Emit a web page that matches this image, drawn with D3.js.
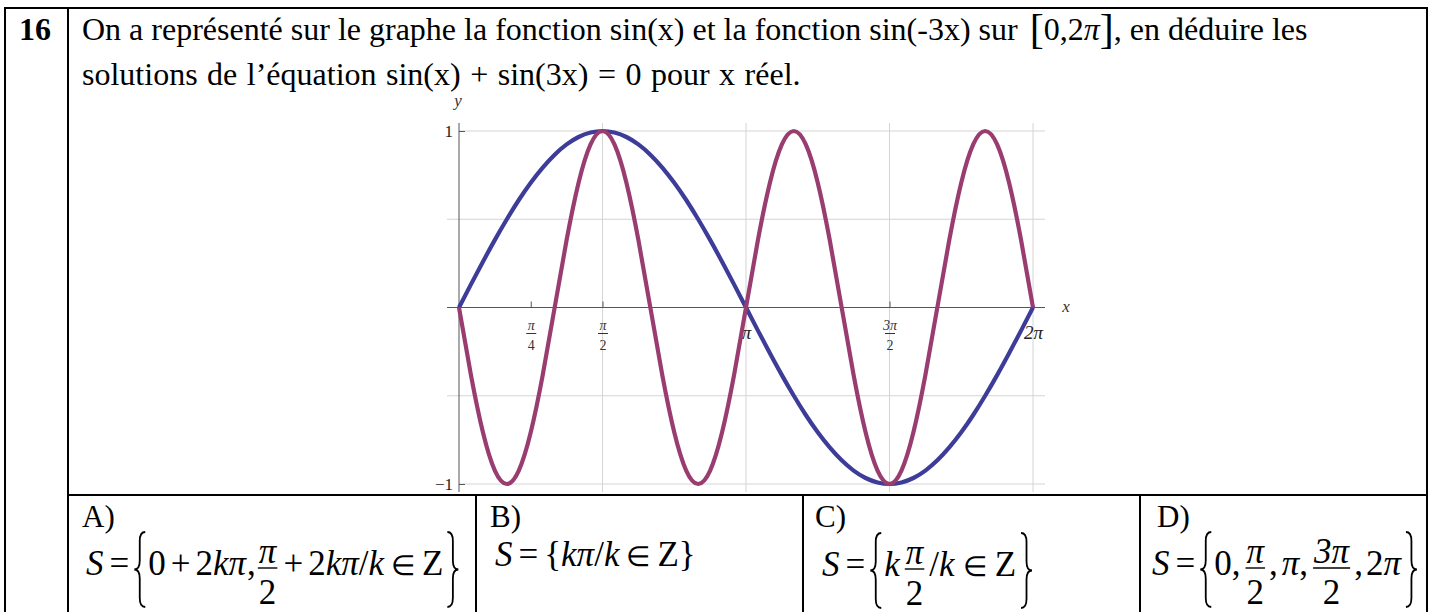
<!DOCTYPE html>
<html>
<head>
<meta charset="utf-8">
<script src="https://cdn.jsdelivr.net/npm/d3@7"></script>
<style>
  body { margin: 0; background: #fff; }
  text { font-family: "Liberation Serif", "Times New Roman", serif; }
</style>
</head>
<body>
<div id="chart"></div>
<script>
// sampling grid: k * pi/24, k = 0..48
const sampleX = d3.range(0, 49).map(k => k * Math.PI / 24);
// values at those x
const sinX = [0, 0.131, 0.259, 0.383, 0.5, 0.609, 0.707, 0.793, 0.866, 0.924, 0.966, 0.991, 1,
  0.991, 0.966, 0.924, 0.866, 0.793, 0.707, 0.609, 0.5, 0.383, 0.259, 0.131, 0,
  -0.131, -0.259, -0.383, -0.5, -0.609, -0.707, -0.793, -0.866, -0.924, -0.966, -0.991, -1,
  -0.991, -0.966, -0.924, -0.866, -0.793, -0.707, -0.609, -0.5, -0.383, -0.259, -0.131, 0];
const sinMinus3X = [0, -0.383, -0.707, -0.924, -1, -0.924, -0.707, -0.383, 0,
  0.383, 0.707, 0.924, 1, 0.924, 0.707, 0.383, 0,
  -0.383, -0.707, -0.924, -1, -0.924, -0.707, -0.383, 0,
  0.383, 0.707, 0.924, 1, 0.924, 0.707, 0.383, 0,
  -0.383, -0.707, -0.924, -1, -0.924, -0.707, -0.383, 0,
  0.383, 0.707, 0.924, 1, 0.924, 0.707, 0.383, 0];

const xTicks = [Math.PI / 4, Math.PI / 2, Math.PI, 3 * Math.PI / 2, 2 * Math.PI];
const xTickLabels = [["π", "4"], ["π", "2"], ["π"], ["3π", "2"], ["2π"]];
const xGrid = [Math.PI / 2, Math.PI, 3 * Math.PI / 2, 2 * Math.PI];
const yTicks = [-1, 1];
const yTickLabels = ["−1", "1"];
const yGrid = [-1, -0.5, 0.5, 1];

const W = 1430, H = 612;
const svg = d3.select("#chart").append("svg")
  .attr("width", W)
  .attr("height", H);

// ---- table frame
const frame = svg.append("g").attr("stroke", "#000").attr("stroke-width", 2);
frame.append("rect").attr("x", 5).attr("y", 8).attr("width", 1422).attr("height", 610).attr("fill", "none");
frame.append("line").attr("x1", 68).attr("x2", 68).attr("y1", 8).attr("y2", 612);
frame.append("line").attr("x1", 68).attr("x2", 1427).attr("y1", 495).attr("y2", 495);
[476, 803, 1140].forEach(v =>
  frame.append("line").attr("x1", v).attr("x2", v).attr("y1", 495).attr("y2", 612));

// ---- question text
const bodyFs = 32;
svg.append("text").attr("x", 19).attr("y", 40).attr("font-size", bodyFs).attr("font-weight", "bold").text("16");
const l1 = svg.append("text").attr("x", 82).attr("y", 40).attr("font-size", bodyFs);
l1.append("tspan").text("On a représenté sur le graphe la fonction sin(x) et la fonction sin(-3x) sur ");
l1.append("tspan").attr("dx", 4).attr("font-size", 42).attr("dy", 3).text("[");
l1.append("tspan").attr("dy", -3).text("0,2");
l1.append("tspan").attr("font-style", "italic").text("π");
l1.append("tspan").attr("font-size", 42).attr("dy", 3).text("]");
l1.append("tspan").attr("dy", -3).text(", en déduire les");
svg.append("text").attr("x", 82).attr("y", 85).attr("font-size", bodyFs).attr("word-spacing", 1.5)
  .text("solutions de l’équation sin(x) + sin(3x) = 0 pour x réel.");

// ---- plot
const x = d3.scaleLinear().domain([0, 2 * Math.PI]).range([459, 1033]);
const y = d3.scaleLinear().domain([-1, 1]).range([484, 131]);

svg.append("g").selectAll("line").data(xGrid).join("line")
  .attr("x1", d => x(d)).attr("x2", d => x(d))
  .attr("y1", 123).attr("y2", 492)
  .attr("stroke", "#d4d4d4");
svg.append("g").selectAll("line").data(yGrid).join("line")
  .attr("x1", d => Math.abs(d) === 1 ? x(0) : 447).attr("x2", 1045)
  .attr("y1", d => y(d)).attr("y2", d => y(d))
  .attr("stroke", "#d4d4d4");

// axes
svg.append("line").attr("x1", 447).attr("x2", 1045).attr("y1", y(0)).attr("y2", y(0)).attr("stroke", "#555");
svg.append("line").attr("x1", x(0)).attr("x2", x(0)).attr("y1", 123).attr("y2", 492).attr("stroke", "#555");

const xAxis = svg.append("g")
  .attr("transform", `translate(0,${y(0)})`)
  .call(d3.axisBottom(x).tickValues(xTicks).tickSize(-6).tickSizeOuter(0).tickFormat(""));
xAxis.select(".domain").remove();
xAxis.selectAll(".tick line").attr("stroke", "#555");
xAxis.selectAll(".tick").each(function (d, i) {
  const g = d3.select(this);
  const lab = xTickLabels[i];
  if (lab.length === 2) {
    g.append("text").attr("y", 22).attr("text-anchor", "middle").attr("font-size", 14)
      .attr("font-style", "italic").attr("fill", "#333").text(lab[0]);
    g.append("line").attr("x1", -5).attr("x2", 5).attr("y1", 26).attr("y2", 26).attr("stroke", "#333");
    g.append("text").attr("y", 42).attr("text-anchor", "middle").attr("font-size", 14)
      .attr("fill", "#333").text(lab[1]);
  } else {
    g.append("text").attr("y", 31).attr("text-anchor", "middle").attr("font-size", 19)
      .attr("font-style", "italic").attr("fill", "#222").text(lab[0]);
  }
});

const yAxis = svg.append("g")
  .attr("transform", `translate(${x(0)},0)`)
  .call(d3.axisRight(y).tickValues(yTicks).tickSize(6).tickSizeOuter(0).tickFormat(""));
yAxis.select(".domain").remove();
yAxis.selectAll(".tick line").attr("stroke", "#555");
yAxis.selectAll(".tick").append("text")
  .attr("x", -6).attr("y", 5).attr("text-anchor", "end").attr("font-size", 17).attr("fill", "#222")
  .text((d, i) => yTickLabels[i]);

svg.append("text").attr("x", 458).attr("y", 106).attr("text-anchor", "middle").attr("font-size", 17)
  .attr("font-style", "italic").attr("fill", "#333").text("y");
svg.append("text").attr("x", 1066).attr("y", 312).attr("text-anchor", "middle").attr("font-size", 17)
  .attr("font-style", "italic").attr("fill", "#333").text("x");

const line = d3.line().curve(d3.curveNatural);
svg.append("path")
  .attr("d", line(sampleX.map((v, i) => [x(v), y(sinX[i])])))
  .attr("fill", "none").attr("stroke", "#3d3d99").attr("stroke-width", 4.2);
svg.append("path")
  .attr("d", line(sampleX.map((v, i) => [x(v), y(sinMinus3X[i])])))
  .attr("fill", "none").attr("stroke", "#993d71").attr("stroke-width", 4.2);

// ---- answers
const mathFs = 35;
const I = s => ({ t: s, i: true });
const R = s => ({ t: s });
const IN = { t: "∈", fs: 28 };

function drawBrace(g, x0, top, bot, side) {
  const w = 11, r = 9, mid = (top + bot) / 2;
  const a = side === "l" ? x0 + w : x0;   // arm end
  const tip = side === "l" ? x0 : x0 + w;
  const c = x0 + w / 2;
  g.append("path")
    .attr("d", `M${a},${top} Q${c},${top} ${c},${top + r} L${c},${mid - r} Q${c},${mid} ${tip},${mid}` +
      ` Q${c},${mid} ${c},${mid + r} L${c},${bot - r} Q${c},${bot} ${a},${bot}`)
    .attr("fill", "none").attr("stroke", "#000").attr("stroke-width", 1.8);
}

function drawFormula(x0, base, items) {
  const g = svg.append("g");
  let cx = x0;
  for (const it of items) {
    if (typeof it === "number") { cx += it; continue; }
    if (it.brace) {
      drawBrace(g, cx + 1, base - 43, base + 32, it.brace);
      cx += 15;
      continue;
    }
    if (it.num) {
      const n = g.append("text").attr("y", base - 12).attr("font-size", mathFs)
        .attr("font-style", "italic").attr("text-anchor", "middle").text(it.num);
      const d = g.append("text").attr("y", base + 29).attr("font-size", mathFs)
        .attr("text-anchor", "middle").text(it.den);
      const w = Math.max(n.node().getComputedTextLength(), d.node().getComputedTextLength());
      n.attr("x", cx + 2 + w / 2);
      d.attr("x", cx + 2 + w / 2);
      g.append("line").attr("x1", cx + 1).attr("x2", cx + w + 3)
        .attr("y1", base - 7).attr("y2", base - 7).attr("stroke", "#000").attr("stroke-width", 1.4);
      cx += w + 4;
      continue;
    }
    const t = g.append("text").attr("x", cx).attr("y", base).attr("font-size", it.fs || mathFs)
      .attr("font-style", it.i ? "italic" : "normal").text(it.t);
    cx += t.node().getComputedTextLength();
  }
  return cx;
}

function label(xp, s) {
  svg.append("text").attr("x", xp).attr("y", 527).attr("font-size", 31).text(s);
}

label(82, "A)");
drawFormula(86, 575, [I("S"), 6, R("="), 4, { brace: "l" }, R("0"), 5, R("+"), 5, R("2"), I("kπ"), 1, R(","), 1,
  { num: "π", den: "2" }, 5, R("+"), 5, R("2"), I("kπ"), R("/"), I("k"), 7, IN, 7, R("Z"), 3, { brace: "r" }]);

label(490, "B)");
drawFormula(495, 566, [I("S"), 6, R("="), 6, R("{"), I("kπ"), R("/"), I("k"), 7, IN, 7, R("Z"), R("}")]);

label(815, "C)");
drawFormula(822, 576, [I("S"), 6, R("="), 4, { brace: "l" }, I("k"), 4, { num: "π", den: "2" }, 4, R("/"), I("k"), 8,
  IN, 8, R("Z"), 4, { brace: "r" }]);

label(1157, "D)");
drawFormula(1152, 575, [I("S"), 6, R("="), 4, { brace: "l" }, R("0,"), 4, { num: "π", den: "2" }, 3, R(","), 4, I("π"), R(","), 4,
  { num: "3π", den: "2" }, 3, R(","), 3, R("2"), I("π"), 4, { brace: "r" }]);
</script>
</body>
</html>
